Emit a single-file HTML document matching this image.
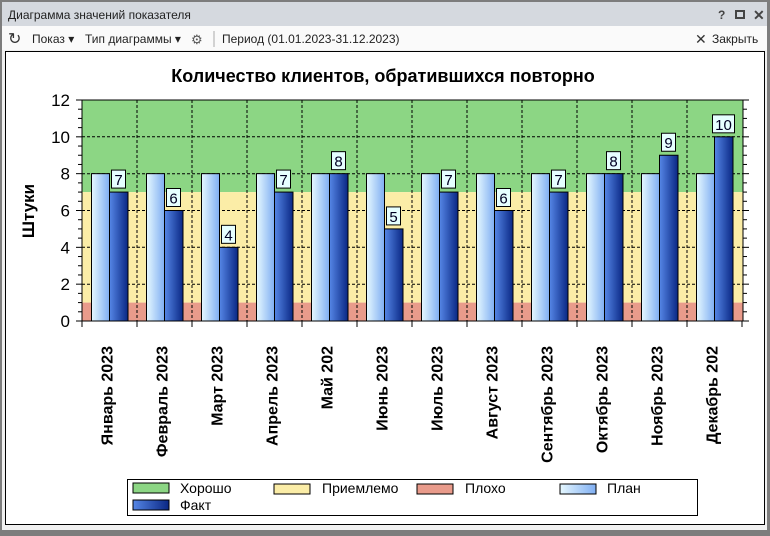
<!DOCTYPE html>
<html><head><meta charset="utf-8"><style>
body{margin:0;width:770px;height:531px;overflow:hidden;background:#7d7d7d;font-family:"Liberation Sans",sans-serif}
</style></head><body>
<svg width="770" height="531" xmlns="http://www.w3.org/2000/svg" font-family="Liberation Sans, sans-serif">
<defs>
<linearGradient id="pl" x1="0" x2="1"><stop offset="0" stop-color="#e6f8ff"/><stop offset="1" stop-color="#7faef2"/></linearGradient>
<linearGradient id="fa" x1="0" x2="1"><stop offset="0" stop-color="#5586e6"/><stop offset="1" stop-color="#0a2784"/></linearGradient>
</defs>
<rect x="2" y="2" width="765" height="528" fill="#f0f0f0"/>
<rect x="2" y="2" width="765" height="24" fill="#d5d9df"/>
<text x="8" y="19" font-size="12" fill="#222">Диаграмма значений показателя</text>
<text x="718" y="19" font-size="12" fill="#444" font-weight="bold">?</text>
<rect x="736" y="11" width="8" height="7" fill="none" stroke="#444" stroke-width="2"/>
<text x="753" y="20" font-size="14" fill="#444" font-weight="bold">✕</text>
<rect x="2" y="26" width="765" height="24" fill="#fafafa"/>
<text x="8" y="44" font-size="16" fill="#333">↻</text>
<text x="32" y="43" font-size="12" fill="#222">Показ ▾</text>
<text x="85" y="43" font-size="12" fill="#222">Тип диаграммы ▾</text>
<text x="191" y="44" font-size="13" fill="#555">⚙</text>
<line x1="214" y1="31" x2="214" y2="47" stroke="#aaa"/>
<text x="222" y="43" font-size="12" fill="#222">Период (01.01.2023-31.12.2023)</text>
<text x="695" y="44" font-size="14" fill="#333">✕</text>
<text x="712" y="43" font-size="12" fill="#222">Закрыть</text>
<rect x="5.5" y="51.5" width="759" height="473" fill="#fff" stroke="#000"/>
<text x="383" y="82" font-size="18" font-weight="bold" text-anchor="middle">Количество клиентов, обратившихся повторно</text>
<text transform="translate(34,211) rotate(-90)" font-size="17" font-weight="bold" text-anchor="middle">Штуки</text>
<rect x="82" y="100" width="661" height="92.1" fill="#8cd684"/>
<rect x="82" y="192.1" width="661" height="110.5" fill="#fbeda7"/>
<rect x="82" y="302.6" width="661" height="18.4" fill="#e99b8b"/>
<g stroke="#000" stroke-dasharray="3,2" stroke-width="1">
<line x1="82" y1="136.8" x2="743" y2="136.8"/><line x1="82" y1="173.7" x2="743" y2="173.7"/>
<line x1="82" y1="210.5" x2="743" y2="210.5"/><line x1="82" y1="247.3" x2="743" y2="247.3"/>
<line x1="82" y1="284.2" x2="743" y2="284.2"/>
<line x1="137" y1="100" x2="137" y2="321"/><line x1="192" y1="100" x2="192" y2="321"/>
<line x1="247" y1="100" x2="247" y2="321"/><line x1="302" y1="100" x2="302" y2="321"/>
<line x1="357" y1="100" x2="357" y2="321"/><line x1="412" y1="100" x2="412" y2="321"/>
<line x1="467" y1="100" x2="467" y2="321"/><line x1="522" y1="100" x2="522" y2="321"/>
<line x1="577" y1="100" x2="577" y2="321"/><line x1="632" y1="100" x2="632" y2="321"/>
<line x1="687" y1="100" x2="687" y2="321"/>
</g>
<g id="bars" stroke="#000" stroke-width="1"></g>
<rect x="82" y="100" width="661" height="221" fill="none" stroke="#000"/>
<g id="ax" stroke="#000"></g>
<g id="txt"></g>
<rect x="127.5" y="479.5" width="570" height="36" fill="#fff" stroke="#000"/>
<g stroke="#000" font-size="14">
<rect x="133" y="483" width="36" height="10" fill="#8cd684"/>
<rect x="274" y="484" width="36" height="10" fill="#fbeda7"/>
<rect x="417" y="484" width="36" height="10" fill="#e99b8b"/>
<rect x="560" y="484" width="36" height="10" fill="url(#pl)"/>
<rect x="133" y="500" width="36" height="10" fill="url(#fa)"/>
</g>
<g font-size="14">
<text x="180" y="493">Хорошо</text><text x="322" y="493">Приемлемо</text>
<text x="465" y="493">Плохо</text><text x="607" y="493">План</text>
<text x="180" y="510">Факт</text>
</g>
<script>
var ns="http://www.w3.org/2000/svg";
function el(p,t,a,tx){var e=document.createElementNS(ns,t);for(var k in a)e.setAttribute(k,a[k]);if(tx)e.textContent=tx;document.getElementById(p).appendChild(e);}
var F=[7,6,4,7,8,5,7,6,7,8,9,10];
var L=["Январь 2023","Февраль 2023","Март 2023","Апрель 2023","Май 202","Июнь 2023","Июль 2023","Август 2023","Сентябрь 2023","Октябрь 2023","Ноябрь 2023","Декабрь 202"];
function Y(v){return 321-v*18.417;}
for(var i=0;i<12;i++){var x0=82+55*i;
el("bars","rect",{x:x0+9.5,y:Y(8),width:18,height:8*18.417,fill:"url(#pl)"});
el("bars","rect",{x:x0+27.5,y:Y(F[i]),width:18.5,height:F[i]*18.417,fill:"url(#fa)"});
var by=Y(F[i])-4;var w=F[i]>=10?22:14;
el("txt","rect",{x:x0+36.5-w/2,y:by-18,width:w,height:18,fill:"#e6ffff",stroke:"#000"});
el("txt","text",{x:x0+36.5,y:by-3,"font-size":"15","text-anchor":"middle",fill:"#002"},String(F[i]));
var cx=x0+27.5;
el("txt","text",{transform:"translate("+(cx+3)+",346) rotate(-90)","font-size":"16","font-weight":"bold","text-anchor":"end"},L[i]);
el("ax","line",{x1:x0,y1:321,x2:x0,y2:327});
}
el("ax","line",{x1:742,y1:321,x2:742,y2:327});
for(var v=0;v<=12;v+=0.5){var y=Y(v);var maj=(v%2==0);
el("ax","line",{x1:maj?76:78,y1:y,x2:82,y2:y});
el("ax","line",{x1:743,y1:y,x2:maj?749:747,y2:y});
if(maj)el("txt","text",{x:70,y:y+6,"font-size":"17","text-anchor":"end"},String(v));}
</script>
</svg>
</body></html>
